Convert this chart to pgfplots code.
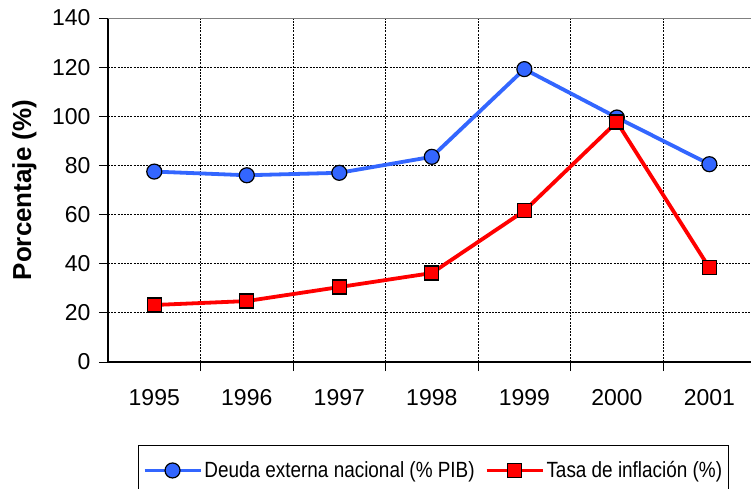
\documentclass[border=0pt]{standalone}
\usepackage{fontspec}
\setmainfont{Liberation Sans}
\newfontfamily\narrowfont[FakeStretch=0.86]{Liberation Sans}
\usepackage{pgfplots}
\pgfplotsset{compat=1.18}
\definecolor{serieblue}{RGB}{51,102,255}
\definecolor{seriered}{RGB}{255,0,0}
\begin{document}
\begin{tikzpicture}
\begin{axis}[
  at={(0,0)}, anchor=south west,
  scale only axis, width=643pt, height=344pt,
  xmin=-0.5, xmax=6.45, ymin=0, ymax=140,
  ytick={0,20,40,60,80,100,120,140},
  xtick={0.5,1.5,2.5,3.5,4.5,5.5}, xticklabels={},
  extra x ticks={0,1,2,3,4,5,6},
  extra x tick labels={1995,1996,1997,1998,1999,2000,2001},
  extra x tick style={grid=none, major tick length=0pt,
     xticklabel style={yshift=-24pt}},
  axis x line*=bottom, axis y line*=left,
  axis line style={line width=1.5pt, black},
  tick align=outside, major tick length=9pt,
  tick style={black, line width=1pt},
  grid=major,
  major grid style={black, line width=1pt, dash pattern=on 2pt off 1.2pt},
  /pgf/number format/assume math mode=true,
  ticklabel style={font=\fontsize{23}{27}\selectfont},
  yticklabel style={xshift=-5pt},
  ylabel={Porcentaje (\%)},
  ylabel style={font=\bfseries\fontsize{26}{30}\selectfont, at={(axis description cs:-0.130,0.5)}, anchor=center},
  legend columns=2,
  legend style={at={(axis description cs:0.0467,-0.2413)}, anchor=north west,
     draw=black, line width=1.2pt, inner xsep=4pt, inner ysep=14pt,
     font=\narrowfont\fontsize{22}{26}\selectfont,
     nodes={inner sep=2pt},
     /tikz/every even column/.append style={column sep=8pt}},
  legend image code/.code={\draw[mark repeat=2,mark phase=2,#1] plot coordinates {(0pt,0pt) (28pt,0pt) (56pt,0pt)};},
]
\addplot[serieblue, line width=3.8pt, mark=*, mark size=7.5pt,
  mark options={fill=serieblue, draw=black, line width=1.2pt}]
  coordinates {(0,77.5) (1,76) (2,77) (3,83.5) (4,119.2) (5,99.5) (6,80.5)};
\addlegendentry{Deuda externa nacional (\% PIB)}
\addplot[seriered, line width=3.8pt, mark=square*, mark size=7pt,
  mark options={fill=seriered, draw=black, line width=1.2pt}]
  coordinates {(0,23.2) (1,24.8) (2,30.5) (3,36.2) (4,61.5) (5,97.7) (6,38.3)};
\addlegendentry{Tasa de inflación (\%)}
\draw[gray, line width=2pt] (rel axis cs:0,1) -- (rel axis cs:1,1);
\end{axis}
\pgfresetboundingbox
\useasboundingbox (-108pt,-126pt) rectangle (643pt,362pt);
\end{tikzpicture}
\end{document}
